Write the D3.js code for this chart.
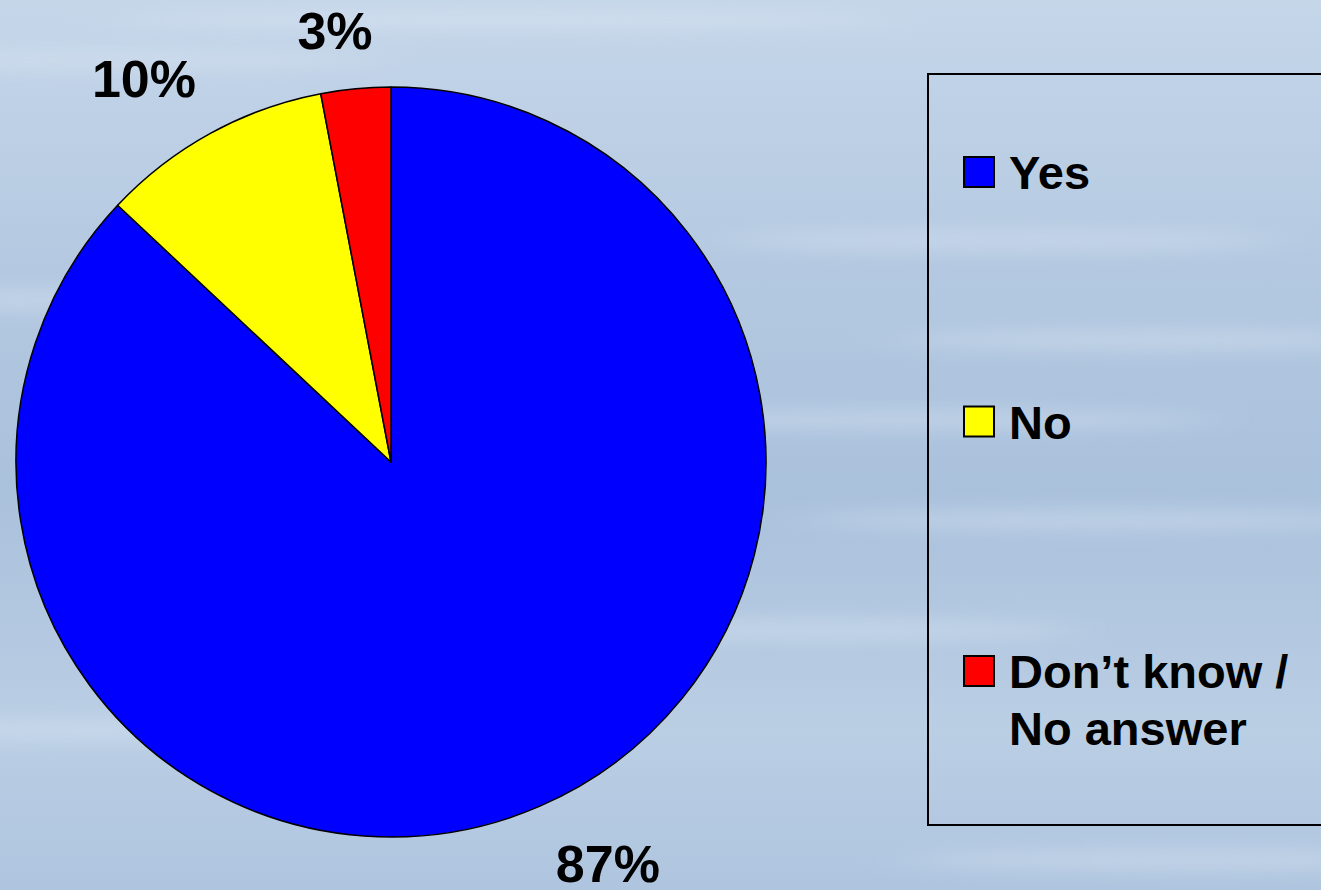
<!DOCTYPE html>
<html>
<head>
<meta charset="utf-8">
<script src="https://cdn.jsdelivr.net/npm/d3@7"></script>
<style>
  body { margin: 0; overflow: hidden; }
  svg { display: block; font-family: "Liberation Sans", Arial, sans-serif; font-weight: bold; }
</style>
</head>
<body>
<svg id="chart" width="1321" height="890"></svg>
<script>
const categories = ["Yes", "No", "Don\u2019t know / No answer"]
const legendLines = [["Yes"], ["No"], ["Don\u2019t know /", "No answer"]]
const values = [87, 10, 3]
const colors = ["#0000ff", "#ffff00", "#ff0000"]

const W = 1321, H = 890
const cx = 391, cy = 462, radius = 375
// outside label placement: [radius, angle shift in degrees] per slice
const labelPlace = [[456, -5], [456, -4], [435, -2]]

const svg = d3.select("#chart")

// sky background
const defs = svg.append("defs")
const grad = defs.append("linearGradient").attr("id", "sky")
    .attr("x1", 0).attr("y1", 0).attr("x2", 0).attr("y2", 1)
grad.selectAll("stop")
  .data([[0, "#c5d6e9"], [0.3, "#b4c9e1"], [0.55, "#aac1dc"], [0.82, "#bacee4"], [1, "#afc5df"]])
  .enter().append("stop")
    .attr("offset", d => d[0]).attr("stop-color", d => d[1])
defs.append("filter").attr("id", "blur")
    .attr("x", "-30%").attr("y", "-300%").attr("width", "160%").attr("height", "700%")
  .append("feGaussianBlur").attr("stdDeviation", "30 9")

svg.append("rect").attr("width", W).attr("height", H).attr("fill", "url(#sky)")

// soft cloud streaks
const streaks = [[80, 60, 300], [40, 300, 220], [1150, 340, 260], [900, 420, 320], [1100, 520, 300],
                 [150, 730, 380], [820, 630, 260], [1200, 860, 300], [500, 20, 400], [1000, 240, 280]]
svg.append("g").attr("filter", "url(#blur)").attr("opacity", 0.3)
  .selectAll("ellipse").data(streaks).enter().append("ellipse")
    .attr("cx", d => d[0]).attr("cy", d => d[1]).attr("rx", d => d[2]).attr("ry", 10)
    .attr("fill", "#e8f0f9")

// pie
const pie = d3.pie().sort(null).value(d => d)
const arcs = pie(values)
const arc = d3.arc().innerRadius(0).outerRadius(radius)

const g = svg.append("g").attr("transform", `translate(${cx},${cy})`)
g.selectAll("path").data(arcs).enter().append("path")
    .attr("d", arc)
    .attr("fill", (d, i) => colors[i])
    .attr("stroke", "#000")
    .attr("stroke-width", 1.5)
    .attr("stroke-linejoin", "round")

g.selectAll("text").data(arcs).enter().append("text")
    .attr("transform", (d, i) => {
      const r = labelPlace[i][0]
      const a = (d.startAngle + d.endAngle) / 2 + labelPlace[i][1] * Math.PI / 180
      return `translate(${r * Math.sin(a)},${-r * Math.cos(a)})`
    })
    .attr("text-anchor", "middle")
    .attr("dy", "0.36em")
    .style("font-size", "52px")
    .text(d => d.data + "%")

// legend
const legend = svg.append("g")
legend.append("rect")
    .attr("x", 928).attr("y", 74).attr("width", 420).attr("height", 751)
    .attr("fill", "none").attr("stroke", "#000").attr("stroke-width", 2)

const rowY = d3.scalePoint().domain(categories).range([172, 671])
const item = legend.selectAll(".item").data(categories).enter().append("g")
    .attr("class", "item")
    .attr("transform", d => `translate(963,${rowY(d)})`)
item.append("rect")
    .attr("x", 1).attr("y", -15).attr("width", 30).attr("height", 30)
    .attr("fill", (d, i) => colors[i])
    .attr("stroke", "#000").attr("stroke-width", 2)
item.append("text")
    .style("font-size", "47px")
    .selectAll("tspan").data((d, i) => legendLines[i]).enter().append("tspan")
      .attr("x", 46)
      .attr("y", (d, j) => 17 + j * 57)
      .text(d => d)
</script>
</body>
</html>
